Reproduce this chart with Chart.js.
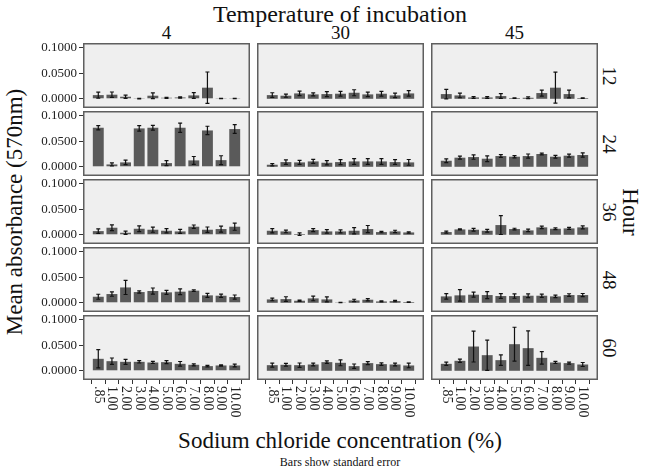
<!DOCTYPE html>
<html>
<head>
<meta charset="utf-8">
<script src="https://cdn.jsdelivr.net/npm/chart.js@4.4.0/dist/chart.umd.min.js"></script>
<style>
    body { margin: 0; background: #fff; }
    #wrap { position: relative; width: 645px; height: 470px; font-family: "Liberation Serif", "Times New Roman", serif; color: #111; }
    #wrap canvas { position: absolute; }
    .lbl { position: absolute; white-space: nowrap; transform: translate(-50%, -50%); line-height: 1; }
</style>
</head>
<body>
<div id="wrap">
    <div class="lbl" style="left:340px;top:14px;font-size:24px;">Temperature of incubation</div>
    <div class="lbl" style="left:14px;top:212px;font-size:23px;transform:translate(-50%,-50%) rotate(-90deg);">Mean absorbance (570nm)</div>
    <div class="lbl" style="left:630px;top:212px;font-size:23px;transform:translate(-50%,-50%) rotate(90deg);">Hour</div>
    <div class="lbl" style="left:340px;top:440px;font-size:23px;">Sodium chloride concentration (%)</div>
    <div class="lbl" style="left:340px;top:462px;font-size:12px;">Bars show standard error</div>
</div>
<script>
// categories and facets
const concentrations = [".85", "1.00", "2.00", "3.00", "4.00", "5.00", "6.00", "7.00", "8.00", "9.00", "10.00"];
const temperatures = ["4", "30", "45"];
const hours = ["12", "24", "36", "48", "60"];
const yTicks = [0, 0.025, 0.05, 0.075, 0.1];

// mean absorbance and standard error, one pair per hour x temperature
const mean12_4 = [0.0072, 0.008, 0.004, 0.0005, 0.006, 0.002, 0.0026, 0.0066, 0.0217, 0.0005, 0.0005];
const se12_4 = [0.0059, 0.0053, 0.0033, 0.0005, 0.0056, 0.001, 0.0012, 0.0056, 0.0306, 0.0003, 0.0003];
const mean12_30 = [0.0072, 0.006, 0.0105, 0.0086, 0.0092, 0.0099, 0.0118, 0.0086, 0.0099, 0.0066, 0.0105];
const se12_30 = [0.0046, 0.003, 0.0043, 0.003, 0.0049, 0.0046, 0.0059, 0.0043, 0.0046, 0.0043, 0.0053];
const mean12_45 = [0.0092, 0.0066, 0.0026, 0.0026, 0.0053, 0.0013, 0.002, 0.0112, 0.0217, 0.0092, 0.0013];
const se12_45 = [0.0092, 0.0046, 0.0016, 0.0016, 0.0046, 0.0005, 0.0016, 0.0059, 0.0303, 0.0076, 0.0005];

const mean24_4 = [0.0763, 0.0046, 0.0086, 0.075, 0.0763, 0.0072, 0.0763, 0.0125, 0.071, 0.013, 0.0737];
const se24_4 = [0.0043, 0.003, 0.0043, 0.0053, 0.0046, 0.0049, 0.0089, 0.0076, 0.0082, 0.0086, 0.0086];
const mean24_30 = [0.004, 0.0092, 0.0086, 0.0105, 0.0079, 0.0092, 0.0105, 0.0105, 0.0105, 0.0092, 0.0086];
const se24_30 = [0.0023, 0.0043, 0.004, 0.004, 0.0043, 0.0049, 0.0056, 0.0056, 0.0056, 0.0046, 0.0056];
const mean24_45 = [0.0118, 0.0178, 0.019, 0.0158, 0.021, 0.0197, 0.021, 0.025, 0.0197, 0.0217, 0.023];
const se24_45 = [0.0036, 0.003, 0.0043, 0.0056, 0.0026, 0.0023, 0.004, 0.0016, 0.0026, 0.003, 0.0043];

const mean36_4 = [0.0072, 0.0138, 0.004, 0.0118, 0.0099, 0.0079, 0.0066, 0.0158, 0.0099, 0.0112, 0.0158];
const se36_4 = [0.0043, 0.0056, 0.003, 0.0056, 0.0049, 0.0043, 0.004, 0.0033, 0.0053, 0.0059, 0.0069];
const mean36_30 = [0.0079, 0.0066, 0.0013, 0.0092, 0.0066, 0.0066, 0.0079, 0.0112, 0.0053, 0.0066, 0.0046];
const se36_30 = [0.0043, 0.0026, 0.0023, 0.003, 0.0033, 0.003, 0.0062, 0.0069, 0.0013, 0.0023, 0.0013];
const mean36_45 = [0.0053, 0.0105, 0.0099, 0.0079, 0.019, 0.0112, 0.0086, 0.0145, 0.0118, 0.0125, 0.0145];
const se36_45 = [0.002, 0.001, 0.0026, 0.0026, 0.0184, 0.0016, 0.0023, 0.0026, 0.0016, 0.002, 0.003];

const mean48_4 = [0.0118, 0.0171, 0.03, 0.021, 0.023, 0.0204, 0.0217, 0.0237, 0.0145, 0.0138, 0.0112];
const se48_4 = [0.0049, 0.0043, 0.0138, 0.0023, 0.0059, 0.004, 0.0056, 0.0016, 0.004, 0.0033, 0.004];
const mean48_30 = [0.0066, 0.0072, 0.004, 0.0086, 0.0066, 0.0005, 0.0046, 0.006, 0.0026, 0.0033, 0.0013];
const se48_30 = [0.0026, 0.0046, 0.0013, 0.0046, 0.0049, 0.0003, 0.0023, 0.0023, 0.001, 0.0013, 0.0005];
const mean48_45 = [0.0125, 0.0145, 0.0158, 0.0151, 0.0132, 0.0132, 0.0138, 0.0138, 0.0125, 0.0151, 0.0151];
const se48_45 = [0.0053, 0.0112, 0.0049, 0.0069, 0.0046, 0.0043, 0.0036, 0.0033, 0.0026, 0.0026, 0.003];

const mean60_4 = [0.0234, 0.0188, 0.0175, 0.0175, 0.0162, 0.0169, 0.0136, 0.0117, 0.0091, 0.0104, 0.0104];
const se60_4 = [0.0179, 0.0062, 0.0049, 0.0023, 0.002, 0.0029, 0.0045, 0.002, 0.0016, 0.0013, 0.0026];
const mean60_30 = [0.011, 0.0117, 0.011, 0.0123, 0.0169, 0.0156, 0.0091, 0.015, 0.013, 0.0123, 0.0104];
const se60_30 = [0.0039, 0.0026, 0.0042, 0.0026, 0.0026, 0.0058, 0.0042, 0.0029, 0.0026, 0.0026, 0.0045];
const mean60_45 = [0.0136, 0.0195, 0.0474, 0.0305, 0.0208, 0.052, 0.0442, 0.0253, 0.0162, 0.015, 0.0123];
const se60_45 = [0.0032, 0.0032, 0.0302, 0.0295, 0.0104, 0.0331, 0.0338, 0.0123, 0.002, 0.002, 0.0039];

const means = [
    [mean12_4, mean12_30, mean12_45],
    [mean24_4, mean24_30, mean24_45],
    [mean36_4, mean36_30, mean36_45],
    [mean48_4, mean48_30, mean48_45],
    [mean60_4, mean60_30, mean60_45],
];
const errors = [
    [se12_4, se12_30, se12_45],
    [se24_4, se24_30, se24_45],
    [se36_4, se36_30, se36_45],
    [se48_4, se48_30, se48_45],
    [se60_4, se60_30, se60_45],
];

// layout of the facet grid
const PANEL_LEFT = [83, 257, 431];
const PANEL_TOP = [43, 111, 179, 247, 315];
const PW = 167, PH = 65;
const AXIS_W = 50, AXIS_H = 45;
const X_PAD = 1.12; // empty room each side of the bars, in category units
const FONT = "'Liberation Serif', 'Times New Roman', serif";

const panelFrame = {
    id: "panelFrame",
    beforeDraw(chart) {
        const a = chart.chartArea, ctx = chart.ctx;
        ctx.save();
        ctx.fillStyle = "#efefef";
        ctx.fillRect(a.left, a.top, a.right - a.left, a.bottom - a.top);
        ctx.restore();
    },
    afterDraw(chart) {
        const a = chart.chartArea, ctx = chart.ctx;
        ctx.save();
        ctx.strokeStyle = "#5f5f5f";
        ctx.lineWidth = 1.5;
        ctx.strokeRect(a.left + 0.75, a.top + 0.75, a.right - a.left - 1.5, a.bottom - a.top - 1.5);
        ctx.restore();
    },
};

const errorBars = {
    id: "errorBars",
    afterDatasetsDraw(chart) {
        const ctx = chart.ctx, y = chart.scales.y;
        const ds = chart.data.datasets[0];
        ctx.save();
        ctx.strokeStyle = "#111";
        ctx.lineWidth = 1.2;
        chart.getDatasetMeta(0).data.forEach((bar, i) => {
            const hi = y.getPixelForValue(ds.data[i].y + ds.se[i]);
            const lo = y.getPixelForValue(ds.data[i].y - ds.se[i]);
            ctx.beginPath();
            ctx.moveTo(bar.x, hi); ctx.lineTo(bar.x, lo);
            ctx.moveTo(bar.x - 2, hi); ctx.lineTo(bar.x + 2, hi);
            ctx.moveTo(bar.x - 2, lo); ctx.lineTo(bar.x + 2, lo);
            ctx.stroke();
        });
        ctx.restore();
    },
};

// x labels read top to bottom, which Chart.js rotation can't do
const xLabels = {
    id: "xLabels",
    afterDraw(chart, args, opts) {
        if (!opts.show) return;
        const ctx = chart.ctx, x = chart.scales.x;
        ctx.save();
        ctx.font = "14px " + FONT;
        ctx.fillStyle = "#222";
        ctx.textAlign = "left";
        ctx.textBaseline = "middle";
        concentrations.forEach((lab, i) => {
            ctx.save();
            ctx.translate(x.getPixelForValue(i), chart.chartArea.bottom + 6);
            ctx.rotate(Math.PI / 2);
            ctx.fillText(lab, 0, 0);
            ctx.restore();
        });
        ctx.restore();
    },
};

function addLabel(text, left, top, size, rotate) {
    const el = document.createElement("div");
    el.className = "lbl";
    el.textContent = text;
    el.style.left = left + "px";
    el.style.top = top + "px";
    el.style.fontSize = size + "px";
    if (rotate) el.style.transform = "translate(-50%,-50%) rotate(" + rotate + "deg)";
    document.getElementById("wrap").appendChild(el);
}

function makePanel(r, c) {
    const isLeft = c === 0;
    const isBottom = r === hours.length - 1;
    const canvas = document.createElement("canvas");
    canvas.width = PW + (isLeft ? AXIS_W : 0);
    canvas.height = PH + (isBottom ? AXIS_H : 0);
    canvas.style.left = (PANEL_LEFT[c] - (isLeft ? AXIS_W : 0)) + "px";
    canvas.style.top = PANEL_TOP[r] + "px";
    document.getElementById("wrap").appendChild(canvas);

    new Chart(canvas, {
        type: "bar",
        data: {
            datasets: [{
                data: means[r][c].map((v, i) => ({ x: i, y: v })),
                se: errors[r][c],
                backgroundColor: "#5a5a5a",
                barPercentage: 0.8,
                categoryPercentage: 1,
            }],
        },
        options: {
            responsive: false,
            animation: false,
            devicePixelRatio: 1,
            layout: { padding: 0 },
            plugins: {
                legend: { display: false },
                tooltip: { enabled: false },
                xLabels: { show: isBottom },
            },
            scales: {
                x: {
                    type: "linear",
                    display: isBottom,
                    offset: false,
                    min: -X_PAD,
                    max: concentrations.length - 1 + X_PAD,
                    afterBuildTicks: (s) => { s.ticks = concentrations.map((_, i) => ({ value: i })); },
                    grid: { drawOnChartArea: false, tickLength: 4, color: "#333" },
                    border: { display: false },
                    ticks: { display: false },
                    afterFit: (s) => {
                        s.height = isBottom ? AXIS_H : 0;
                        s.paddingLeft = 0; s.paddingRight = 0;
                    },
                },
                y: {
                    display: isLeft,
                    min: -0.018,
                    max: 0.109,
                    afterBuildTicks: (s) => { s.ticks = yTicks.map((v) => ({ value: v })); },
                    grid: { drawOnChartArea: false, tickLength: 4, color: "#333" },
                    border: { display: false },
                    ticks: {
                        padding: 2,
                        color: "#222",
                        font: { family: FONT, size: 13 },
                        callback: (v) => v.toFixed(4),
                    },
                    afterFit: (s) => {
                        s.width = isLeft ? AXIS_W : 0;
                        s.paddingTop = 0; s.paddingBottom = 0;
                    },
                },
            },
        },
        plugins: [panelFrame, errorBars, xLabels],
    });
}

document.addEventListener("DOMContentLoaded", function () {
    temperatures.forEach((t, c) => addLabel(t, PANEL_LEFT[c] + PW / 2, 32, 19));
    hours.forEach((h, r) => addLabel(h, 609, PANEL_TOP[r] + PH / 2, 19, 90));
    for (let r = 0; r < hours.length; r++) {
        for (let c = 0; c < temperatures.length; c++) makePanel(r, c);
    }
});
</script>
</body>
</html>
